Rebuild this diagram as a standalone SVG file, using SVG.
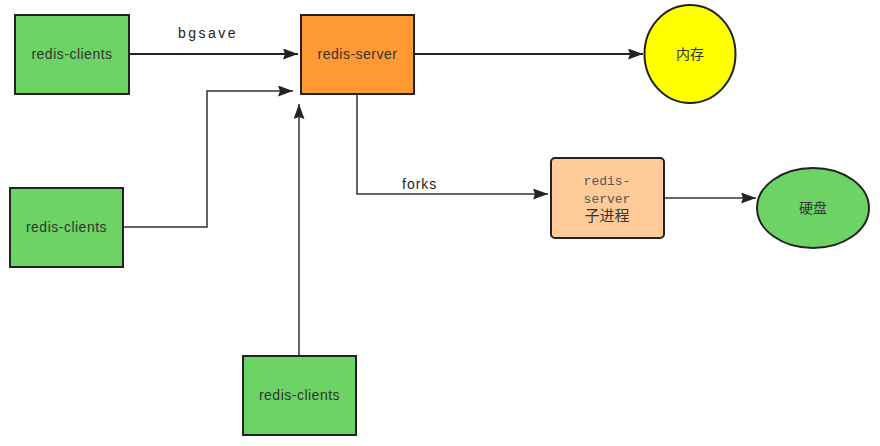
<svg xmlns="http://www.w3.org/2000/svg" width="880" height="446" viewBox="0 0 880 446">
<defs>
<style>
.node{stroke:#222;stroke-width:2}
.green{fill:#6CD364}
.lbl{font-family:"Liberation Sans",Arial,sans-serif;font-size:14px;fill:#333;text-anchor:middle;letter-spacing:0.5px}
.cjk{font-family:"Liberation Sans","Noto Sans CJK SC",sans-serif;font-size:14px;fill:#333;text-anchor:middle}
.mono{font-family:"Liberation Mono","Courier New",monospace;font-size:13px;fill:#555;text-anchor:middle}
.edge{fill:none;stroke:#333;stroke-width:1.5}
.edge2{fill:none;stroke:#222;stroke-width:2}
.elbl{font-family:"Liberation Sans",Arial,sans-serif;font-size:14px;fill:#222}
</style>
<marker id="arrb" markerWidth="15" markerHeight="11" refX="15" refY="5.5" orient="auto" markerUnits="userSpaceOnUse" viewBox="0 0 15 11">
<path d="M0,0 L15,5.5 L0,11 L2,5.5 Z" fill="#222"/>
</marker>
</defs>
<rect width="880" height="446" fill="#fff"/>
<g id="connectors">
<path class="edge2" d="M129,54 L298,54" marker-end="url(#arrb)"/>
<text class="elbl" x="178" y="38" letter-spacing="2.5">bgsave</text>
<path class="edge" d="M123,227 L207,227 L207,91 L293,91" marker-end="url(#arrb)"/>
<path class="edge" d="M299,356 L299,104" marker-end="url(#arrb)"/>
<path class="edge2" d="M414,54 L643,54" marker-end="url(#arrb)"/>
<path class="edge" d="M357,95 L357,194 L548,194" marker-end="url(#arrb)"/>
<text class="elbl" x="402" y="189" letter-spacing="1">forks</text>
<path class="edge" d="M664,198 L756,198" marker-end="url(#arrb)"/>
</g>
<g id="client1">
<rect class="node green" x="15" y="15" width="114" height="79"/>
<text class="lbl" x="72" y="59">redis-clients</text>
</g>
<g id="client2">
<rect class="node green" x="10" y="188" width="113" height="79"/>
<text class="lbl" x="66.5" y="232">redis-clients</text>
</g>
<g id="client3">
<rect class="node green" x="243" y="356" width="113" height="79"/>
<text class="lbl" x="299.5" y="400">redis-clients</text>
</g>
<g id="server">
<rect class="node" x="301" y="15" width="113" height="79" fill="#FF9933"/>
<text class="lbl" x="357.5" y="59">redis-server</text>
</g>
<g id="memory">
<ellipse class="node" cx="690" cy="54" rx="45.5" ry="49" fill="#FFFF00"/>
<text class="cjk" x="690" y="59">内存</text>
</g>
<g id="child">
<rect class="node" x="551" y="158" width="113" height="80" rx="4" fill="#FFCC99"/>
<text class="mono" x="607" y="185">redis-</text>
<text class="mono" x="607" y="203">server</text>
<text class="cjk" x="607" y="221" style="font-size:15px">子进程</text>
</g>
<g id="disk">
<ellipse class="node green" cx="813" cy="208" rx="56" ry="40"/>
<text class="cjk" x="813" y="213">硬盘</text>
</g>
</svg>
